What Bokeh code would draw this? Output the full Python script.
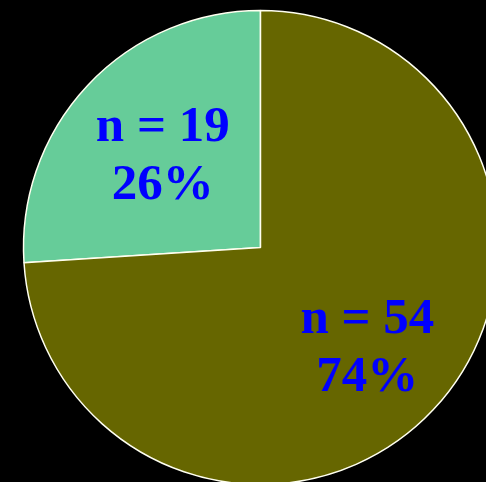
import math

from bokeh.core.properties import value
from bokeh.embed import file_html
from bokeh.models import ColumnDataSource
from bokeh.plotting import figure
from bokeh.resources import INLINE

# Two groups, counted
counts = [19, 54]
colors = ["#66CC99", "#666600"]

total = sum(counts)
percents = [round(100 * c / total) for c in counts]
line1 = [f"n = {c}" for c in counts]
line2 = [f"{p}%" for p in percents]

# Pie geometry (in pixel-sized data units)
CX, CY, R = 260, 235, 237
# radial position of each label's block, as a fraction of the radius
label_frac = [0.565, 0.618]

start, end, mid = [], [], []
a = math.pi / 2  # first slice starts at 12 o'clock, going anticlockwise
for c in counts:
    sweep = 2 * math.pi * c / total
    start.append(a)
    end.append(a + sweep)
    mid.append(a + sweep / 2)
    a += sweep

src = ColumnDataSource(dict(
    start=start, end=end, color=colors,
    x=[CX] * len(counts), y=[CY] * len(counts),
))

lx = [CX + f * R * math.cos(m) for f, m in zip(label_frac, mid)]
ly = [CY + f * R * math.sin(m) for f, m in zip(label_frac, mid)]
lab = ColumnDataSource(dict(
    x=lx,
    y1=[y + 32 for y in ly],
    y2=[y - 26 for y in ly],
    t1=line1, t2=line2,
))

p = figure(
    width=486, height=482,
    x_range=(0, 486), y_range=(0, 482),
    x_axis_type=None, y_axis_type=None,
    toolbar_location=None, output_backend="svg",
    min_border=0,
    background_fill_color="black", border_fill_color="black",
    outline_line_color=None, outline_line_alpha=0,
    styles={"background-color": "black"},
)
p.grid.visible = False

p.wedge(
    x="x", y="y", radius=R, radius_units="data",
    start_angle="start", end_angle="end",
    fill_color="color", line_color="#FFFFF0", line_width=1.5,
    source=src,
)

common = dict(
    text_font=value("Liberation Serif"), text_font_style="bold",
    text_font_size="51px", text_color="#0000FF",
    text_align="center", text_baseline="alphabetic",
)
p.text(x="x", y="y1", text="t1", source=lab, **common)
p.text(x="x", y="y2", text="t2", source=lab, **common)

html = file_html(p, INLINE)
html = html.replace("<body>", '<body style="margin:0;background:black;">', 1)
open("out.html", "w").write(html)
